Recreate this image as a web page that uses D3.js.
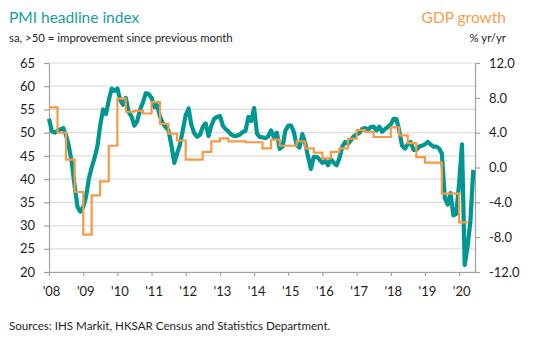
<!DOCTYPE html>
<html>
<head>
<meta charset="utf-8">
<script src="https://cdn.jsdelivr.net/npm/d3@7"></script>
<style>
  body { margin: 0; background: #fff; }
  text { font-family: Lato, "Open Sans", sans-serif; }
</style>
</head>
<body>
<svg id="chart"></svg>
<script>
// PMI headline index, monthly from Jan 2008
const pmiStart = new Date(2008, 0, 1);
const pmi = [
  53, 50.3, 50, 50.4, 50.7, 51, 49.5, 47, 43.5, 38.5, 34, 33,
  34, 36.3, 40, 42.5, 44.5, 47, 51.5, 55, 54, 57, 59.5, 59,
  59.5, 57, 56, 57.5, 54.5, 53.5, 51.5, 52.5, 55, 56.5, 58.5, 58.3,
  57.5, 55.5, 56, 53.5, 52, 51.2, 50.5, 47.3, 43.5, 45.5, 47.5, 50.5,
  53.8, 55.2, 51.7, 49.9, 49.1, 49.5, 51.2, 52, 49.3, 51.5, 53, 53.4,
  53.6, 51.5, 50.8, 50.3, 49.6, 49.3, 49.3, 49.6, 50.1, 50.4, 53.4, 52.5,
  55.3, 49.8, 49.1, 49, 48.8, 49.2, 50.5, 49, 50, 46.5, 47, 50.4,
  51.5, 51.5, 50.2, 47.3, 46.8, 49.7, 47.8, 44.8, 42.2, 44.8, 44.8, 44.2,
  43.5, 44, 43, 44.3, 43.5, 43, 44.5, 47, 48, 47.6, 48.4, 49.2,
  49.6, 50, 50.8, 51, 50.6, 51.2, 51.3, 50.5, 51.3, 50.2, 50.8, 51.2,
  51.8, 53, 53, 50.5, 47.2, 46.6, 47.5, 48, 46.3, 46.3, 47, 47.2,
  47.5, 48, 47.5, 47, 47, 46.6, 45.5, 36, 34.5, 37, 32.2, 32.5,
  39, 47.5, 21.5, 25.5, 31, 42
];

// GDP growth % yr/yr, quarterly from Q1 2008
const gdpStart = new Date(2008, 0, 1);
const gdp = [
  6.9, 4.0, 0.9, -2.8,
  -7.7, -3.2, -1.6, 2.5,
  7.9, 6.4, 6.5, 6.2,
  7.5, 5.0, 3.9, 3.1,
  0.9, 0.9, 1.8, 3.0,
  3.35, 3.0, 3.0, 2.9,
  2.9, 2.2, 3.2, 2.5,
  2.5, 3.0, 2.2, 1.7,
  1.05, 1.8, 2.2, 3.3,
  4.3, 4.1, 3.5, 3.5,
  4.6, 3.7, 2.8, 1.2,
  0.55, 0.55, -3.0, -3.0,
  -6.3
];

const leftTicks = [20, 25, 30, 35, 40, 45, 50, 55, 60, 65];
const rightTicks = [-12, -8, -4, 0, 4, 8, 12];

const WIDTH = 546, HEIGHT = 342;
const X0 = 49, X1 = 475, Y0 = 63, Y1 = 272;
const TEAL = "#009692", ORANGE = "#f79a45";

const svg = d3.select("#chart")
  .attr("width", WIDTH)
  .attr("height", HEIGHT);

const pmiData = pmi.map((v, i) => ({ date: d3.timeMonth.offset(pmiStart, i), v }));
const gdpData = gdp.map((v, i) => ({ date: d3.timeMonth.offset(gdpStart, i * 3), v }));
// close the last quarter so the step has a length
gdpData.push({ date: d3.timeMonth.offset(gdpStart, gdp.length * 3), v: gdp[gdp.length - 1] });

const x = d3.scaleTime()
  .domain([new Date(2008, 0, 1), new Date(2020, 5, 19)])
  .range([X0, X1]);
const yL = d3.scaleLinear().domain([20, 65]).range([Y1, Y0]);
const yR = d3.scaleLinear().domain([-12, 12]).range([Y1, Y0]);

// gridlines
svg.append("g")
  .selectAll("line")
  .data(leftTicks)
  .enter()
  .append("line")
  .attr("x1", X0)
  .attr("x2", X1)
  .attr("y1", d => yL(d))
  .attr("y2", d => yL(d))
  .style("stroke", "#dcdcdc")
  .style("stroke-width", 1.2);

// axes
const axisLeft = d3.axisLeft(yL)
  .tickValues(leftTicks)
  .tickSize(5)
  .tickSizeOuter(0)
  .tickPadding(9);
const axisRight = d3.axisRight(yR)
  .tickValues(rightTicks)
  .tickSize(5)
  .tickSizeOuter(0)
  .tickPadding(9)
  .tickFormat(d => d.toFixed(1));
const axisBottom = d3.axisBottom(x)
  .ticks(d3.timeYear.every(1))
  .tickFormat(d3.timeFormat("'%y"))
  .tickSize(4)
  .tickSizeOuter(0)
  .tickPadding(11);

const gl = svg.append("g").attr("transform", `translate(${X0},0)`).call(axisLeft);
const gr = svg.append("g").attr("transform", `translate(${X1},0)`).call(axisRight);
const gb = svg.append("g").attr("transform", `translate(0,${Y1})`).call(axisBottom);

for (const g of [gl, gr, gb]) {
  g.select(".domain").style("stroke", "#a0a0a0").style("stroke-width", 1.2);
  g.selectAll(".tick line").style("stroke", "#a0a0a0").style("stroke-width", 1.2);
  g.selectAll(".tick text")
    .style("font-family", "Lato, sans-serif")
    .style("font-size", "13px")
    .style("fill", "#1e1e1e");
}
gr.selectAll(".tick text").attr("text-anchor", "start");
gb.selectAll(".tick text").attr("dx", 2);

// series
const pmiLine = d3.line()
  .x(d => x(d.date))
  .y(d => yL(d.v));
const gdpLine = d3.line()
  .curve(d3.curveStepAfter)
  .x(d => x(d.date))
  .y(d => yR(d.v));

svg.append("path")
  .datum(pmiData)
  .attr("d", pmiLine)
  .style("fill", "none")
  .style("stroke", TEAL)
  .style("stroke-width", 4.2)
  .style("stroke-linejoin", "round");

svg.append("path")
  .datum(gdpData)
  .attr("d", gdpLine)
  .style("fill", "none")
  .style("stroke", ORANGE)
  .style("stroke-width", 2.2);

// titles
svg.append("text")
  .attr("x", 9).attr("y", 23)
  .style("font-size", "15.5px")
  .style("fill", "#17a19d")
  .text("PMI headline index");
svg.append("text")
  .attr("x", 9).attr("y", 42)
  .style("font-size", "11.4px")
  .style("fill", "#1e1e1e")
  .text("sa, >50 = improvement since previous month");
svg.append("text")
  .attr("x", 506).attr("y", 23)
  .attr("text-anchor", "end")
  .style("font-size", "15.5px")
  .style("fill", "#f7a04c")
  .text("GDP growth");
svg.append("text")
  .attr("x", 506).attr("y", 42)
  .attr("text-anchor", "end")
  .style("font-size", "11.4px")
  .style("fill", "#1e1e1e")
  .text("% yr/yr");

svg.append("text")
  .attr("x", 9).attr("y", 330)
  .style("font-size", "11.6px")
  .style("fill", "#1e1e1e")
  .text("Sources: IHS Markit, HKSAR Census and Statistics Department.");
</script>
</body>
</html>
